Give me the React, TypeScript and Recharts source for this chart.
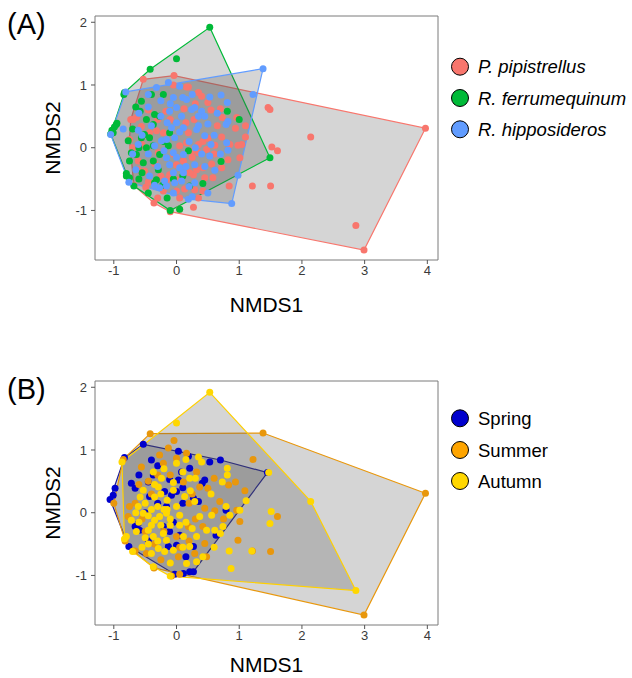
import { ScatterChart, Scatter, XAxis, YAxis, ReferenceArea } from 'recharts';

const FONT = '"Liberation Sans", Arial, sans-serif';

const X_DOMAIN = [-1.3, 4.17];
const Y_DOMAIN = [-1.79, 2.1];
const X_TICKS = [-1, 0, 1, 2, 3, 4];
const Y_TICKS = [-1, 0, 1, 2];

// ---- panel A: species ----
const speciesNames = ['P. pipistrellus', 'R. ferrumequinum', 'R. hipposideros'];
const speciesColors = ['#F8766D', '#00BA38', '#619CFF'];

const pipHull = [
  [-0.53, 1.09], [-0.04, 1.15], [3.97, 0.31], [2.99, -1.63], [-0.1, -1.02],
  [-0.36, -0.88], [-0.68, -0.6], [-0.75, 0.13], [-0.73, 0.45],
];
const pipInner = [
  [1.46, 0.64], [1.49, 0.61], [2.14, 0.17], [1.52, 0.01], [1.61, -0.05], [1.21, -0.61],
  [1.5, -0.61], [0.84, -0.61], [0.27, -0.95], [0.05, -0.98], [2.86, -1.24],
  [0.96, 0.48], [1.1, 0.35], [1.1, 0.17], [0.94, 0.31], [1.04, 0.05], [0.73, 0.48], [0.72, 0.17],
  [0.35, 0.88], [0.4, 0.82], [0.61, 0.04], [0.42, 0.1], [0.35, 0.05], [0.48, -0.03], [0.35, -0.08],
  [1.01, -0.16], [0.82, -0.19], [0.56, -0.26], [0.42, -0.32], [0.72, -0.32], [0.32, -0.35],
  [0.58, -0.48], [0.45, -0.48], [0.27, -0.43], [0.29, -0.67], [0.42, -0.69], [0.98, 0.04],
  [0.19, 0.97], [0.16, 0.97], [-0.17, 0.58], [-0.69, 0.45], [-0.64, 0.48], [-0.56, 0.34],
  [-0.43, 0.24], [-0.32, 0.27], [-0.21, 0.24], [0.19, 0.24], [0.05, 0.03], [0.16, 0.08],
  [-0.61, -0.21], [-0.29, -0.08], [0, -0.27], [0.11, -0.21], [-0.61, -0.35], [-0.51, -0.37],
  [-0.11, -0.43], [-0.16, -0.51], [0.03, -0.51], [0.21, -0.4], [-0.49, -0.63], [-0.21, -0.69],
  [0, -0.69], [0.13, -0.66], [-0.7, 0], [0.5, 0.72], [0.12, 0.62], [0.28, 0.45], [-0.05, 1.0],
  [0.25, -0.15], [-0.45, 0.6], [-0.3, 0.45], [-0.1, 0.45], [0.3, 0.7], [0.55, 0.6], [0.65, 0.35],
  [0.5, 0.15], [0.25, -0.05], [-0.05, -0.1], [-0.35, -0.25], [-0.25, -0.45], [0.05, -0.8],
  [-0.3, -0.8], [0.6, -0.1], [0.85, 0.05], [0.15, 0.4], [-0.55, 0.05], [-0.45, -0.55],
  [0.35, -0.8], [0.7, 0.62],
];

const ferHull = [
  [0.53, 1.92], [1.49, -0.16], [-0.1, -1.0], [-0.68, -0.61], [-0.8, -0.41],
  [-1.05, 0.22], [-0.83, 0.88], [-0.42, 1.25],
];
const ferInner = [
  [0, 1.42], [-0.84, 0.85], [-1.01, 0.24], [-0.96, 0.37], [-0.95, 0.39], [-0.4, 0.85],
  [-0.21, 0.85], [-0.56, 0.74], [-0.35, 0.53], [-0.27, 0.5], [-0.48, 0.45], [-0.37, 0.37],
  [-0.11, 0.24], [-0.51, 0.21], [-0.56, 0.16], [-0.43, 0.16], [-0.77, 0.11], [-0.48, 0],
  [-0.37, 0.03], [-0.27, -0.11], [-0.13, 0.03], [-0.72, -0.08], [-0.64, -0.11], [-0.75, -0.21],
  [-0.53, -0.24], [-0.37, -0.21], [-0.29, -0.35], [-0.8, -0.45], [-0.75, -0.48], [-0.32, -0.51],
  [-0.35, -0.56], [0.05, -0.98], [0.19, -0.05], [0.21, -0.61], [0.81, 0.58], [1.0, 0.45],
  [0.71, -0.22], [0.42, -0.57], [-1.03, 0.28], [-0.99, 0.33], [-0.58, 0.58], [-0.45, -0.72],
  [-0.22, -0.6], [0.1, -0.45], [-0.6, -0.5], [-0.65, 0.65], [-0.2, 0.1], [-0.05, -0.5],
  [-0.55, -0.4], [-0.15, -0.8], [-0.7, 0.3], [-0.6, 0.0],
];

const hipHull = [
  [1.38, 1.26], [0.88, -0.89], [0.19, -0.82], [-0.76, -0.55], [-1.05, 0.21], [-0.81, 0.89],
];
const hipInner = [
  [1.22, 0.85], [0.98, -0.44], [0.53, 0.81], [0.71, 0.84], [0.81, 0.72], [0.82, 0.42],
  [0.79, 0.37], [0.8, 0.08], [0.82, -0.04], [0.53, -0.13], [0.61, -0.36], [0.29, -0.56],
  [0.4, 0.58], [0.45, 0.5], [0.5, 0.38], [0.29, 0.64], [0.32, 0.29], [0.45, 0.19], [0.29, -0.27],
  [-0.13, 1.04], [0.05, 0.98], [-0.32, 0.96], [-0.05, 0.8], [0.16, 0.77], [0.24, 0.61],
  [0, 0.64], [-0.11, 0.58], [0.08, 0.5], [0, 0.4], [-0.08, 0.32], [0.11, 0.32], [-0.24, 0.11],
  [-0.16, 0.13], [-0.03, 0.16], [-0.61, 0.05], [-0.35, 0.03], [-0.05, -0.08], [0.11, -0.11],
  [-0.16, -0.16], [0.05, -0.32], [-0.11, -0.27], [-0.05, -0.4], [0.11, -0.4], [-0.43, -0.45],
  [-0.19, -0.53], [-0.03, -0.56], [0.08, -0.53], [-0.27, -0.64], [-0.16, -0.61], [-0.61, 0.28],
  [-0.45, 0.65], [-0.6, 0.55], [-0.25, 0.75], [0.35, 0.35], [0.2, 0.1], [0.3, 0.0], [0.15, -0.3],
  [-0.3, -0.3], [-0.45, -0.1], [0.6, 0.2], [0.65, 0.55], [-0.05, -0.72], [0.25, -0.78],
  [0.5, -0.72], [-0.7, -0.1], [-0.85, 0.3], [0.4, -0.1], [-0.4, 0.35], [-0.25, 0.5],
  [-0.55, 0.2], [0.1, 0.8], [-0.1, 0.7], [0.35, 0.5], [0.55, 0.05], [0.7, -0.1], [0.45, -0.3],
  [-0.2, -0.05], [-0.35, -0.6], [0.0, -0.15], [-0.45, 0.85], [0.25, 0.85], [-0.65, -0.35],
  [0.2, -0.62], [-0.15, 0.4], [0.05, 0.25],
];

// ---- panel B: seasons ----
const seasonNames = ['Spring', 'Summer', 'Autumn'];
const seasonColors = ['#0000CD', '#E8970C', '#FFD700'];
const seasonLegendColors = ['#0000CD', '#FFA500', '#FFD700'];
const seasonLineColors = ['#1A1A9A', '#E8970C', '#FFD000'];

const springHull = [
  [-0.53, 1.09], [0.7, 0.84], [1.45, 0.64], [0.27, -0.94], [-0.03, -0.98],
  [-0.76, -0.54], [-1.06, 0.21], [-0.83, 0.88],
];
const springInner = [
  [0.03, 0.98], [0.19, 0.9], [-0.6, 0.6], [-0.37, 0.6], [-0.11, 0.53], [0.08, 0.65], [0.21, 0.71],
  [-0.72, 0.47], [-0.45, 0.49], [-0.19, 0.34], [0.03, 0.52], [-0.08, 0.28], [-0.66, 0.39],
  [-0.43, 0.26], [-0.16, 0.1], [0, 0.34], [-0.98, 0.39], [-1.01, 0.28], [-0.61, -0.17],
  [-0.66, -0.22], [-0.21, -0.22], [-0.11, -0.3], [-0.59, -0.28], [0.05, -0.36], [0, -0.52],
  [-0.13, -0.54], [0.21, -0.94], [0.11, -0.97], [0.53, 0.81], [0.45, 0.52], [0.35, 0.18],
  [0.27, 0.23], [0.79, 0.04], [0.63, -0.36], [0.27, -0.54], [0.41, 0.47], [-0.4, 0.84],
  [-0.3, 0.15], [0.1, 0.15], [-0.5, 0.0], [-0.3, 0.75], [0.1, 0.4], [-0.05, -0.15],
  [-0.45, -0.45], [0.15, -0.7],
];

const summerHull = [
  [-0.42, 1.26], [1.38, 1.27], [3.97, 0.31], [2.99, -1.63], [-0.36, -0.88],
  [-0.69, -0.61], [-0.82, -0.45], [-1.0, 0.15], [-0.85, 0.85],
];
const summerInner = [
  [-0.04, 1.15], [-0.13, 1.03], [0.16, 0.95], [-0.27, 0.92], [-0.21, 0.79], [-0.56, 0.73],
  [0, 0.87], [0.11, 0.49], [-0.66, 0.15], [-0.75, 0.1], [-0.77, -0.06], [0.19, -0.22],
  [0.03, -0.7], [-0.48, -0.65], [-0.66, -0.61], [-0.08, -1.01], [0.05, -0.98], [0, -0.38],
  [1.22, 0.85], [0.94, 0.49], [1.09, 0.35], [0.83, 0.44], [0.69, 0.18], [0.45, 0.07],
  [0.61, 0.03], [0.96, 0.04], [1.01, -0.14], [1.61, -0.06], [1.5, -0.62], [0.98, -0.44],
  [0.42, -0.22], [0.45, -0.49], [0.48, -0.7], [0.29, -0.65], [0.32, 0.65], [0.37, 0.41],
  [0.5, 0.39], [1.21, -0.61], [-0.4, 0.3], [-0.2, -0.3], [-0.55, -0.1], [0.25, 0.3],
  [-0.1, 0.6], [-0.35, -0.5], [0.2, -0.45], [-0.3, 0.6], [-0.45, 0.5], [0.2, 0.15],
  [-0.5, -0.3], [0.05, -0.55], [0.3, -0.1], [-0.25, -0.75], [0.6, 0.55], [0.75, -0.1],
  [-0.6, 0.45],
];

const autumnHull = [
  [0.53, 1.92], [2.14, 0.18], [2.86, -1.24], [-0.1, -1.01], [-0.37, -0.86],
  [-0.7, -0.62], [-0.83, -0.42], [-0.87, 0.81],
];
const autumnInner = [
  [0, 1.43], [0, 0.79], [-0.37, 0.65], [-0.24, 0.55], [-0.53, 0.36], [-0.29, 0.41], [-0.05, 0.36],
  [0.21, 0.55], [0.13, 0.26], [-0.61, 0.1], [-0.53, -0.01], [-0.27, -0.06], [-0.16, -0.01],
  [-0.35, -0.12], [0.05, -0.04], [-0.45, -0.28], [-0.21, -0.33], [-0.37, -0.38], [-0.16, -0.44],
  [-0.29, -0.57], [-0.19, -0.62], [0.11, -0.38], [0.21, -0.54], [-0.64, -0.3], [-0.72, -0.12],
  [-0.8, -0.38], [0.16, -0.81], [0.35, 0.89], [0.4, 0.81], [0.81, 0.71], [0.81, 0.6],
  [0.73, 0.49], [1.47, 0.64], [1.11, 0.19], [1.01, 0.04], [0.79, 0.1], [0.85, -0.04],
  [0.56, -0.04], [0.29, 0.18], [0.37, -0.06], [0.74, -0.22], [0.61, -0.28], [0.48, -0.28],
  [0.7, -0.33], [0.32, -0.38], [0.42, -0.7], [0.32, -0.78], [0.84, -0.61], [1.2, -0.61],
  [0.87, -0.89], [1.51, 0.02], [1.49, -0.17], [-0.45, -0.05], [-0.4, 0.05], [-0.3, 0.1],
  [-0.2, 0.05], [-0.1, -0.1], [-0.25, -0.2], [-0.4, -0.2], [-0.1, -0.2], [0, 0.1], [-0.5, 0.15],
  [-0.15, 0.2], [-0.3, -0.45], [-0.45, -0.5], [-0.55, -0.55], [-0.5, -0.4], [0.15, -0.15],
  [-0.65, 0], [-0.58, 0.25], [-0.2, 0.7], [0.1, 0.65], [-0.05, 0.48], [0.22, 0.35],
  [-0.35, 0.25], [-0.15, 0.05], [0.05, -0.2], [-0.25, 0.3], [0.1, -0.55], [-0.05, -0.6],
  [-0.4, -0.65], [-0.6, -0.15], [0.3, 0.55], [0.15, 0.85], [-0.35, 0.45], [0.55, 0.3],
  [0.25, -0.25], [-0.1, -0.8], [0.6, -0.55],
];

const toPts = (arr: number[][]) => arr.map(([x, y]) => ({ x, y }));

interface Group {
  name: string;
  color: string;
  lineColor: string;
  legendColor: string;
  hull: number[][];
  inner: number[][];
}

const panelA: Group[] = [
  { name: speciesNames[0], color: speciesColors[0], lineColor: speciesColors[0], legendColor: speciesColors[0], hull: pipHull, inner: pipInner },
  { name: speciesNames[1], color: speciesColors[1], lineColor: speciesColors[1], legendColor: speciesColors[1], hull: ferHull, inner: ferInner },
  { name: speciesNames[2], color: speciesColors[2], lineColor: speciesColors[2], legendColor: speciesColors[2], hull: hipHull, inner: hipInner },
];

const panelB: Group[] = [
  { name: seasonNames[0], color: seasonColors[0], lineColor: seasonLineColors[0], legendColor: seasonLegendColors[0], hull: springHull, inner: springInner },
  { name: seasonNames[1], color: seasonColors[1], lineColor: seasonLineColors[1], legendColor: seasonLegendColors[1], hull: summerHull, inner: summerInner },
  { name: seasonNames[2], color: seasonColors[2], lineColor: seasonLineColors[2], legendColor: seasonLegendColors[2], hull: autumnHull, inner: autumnInner },
];

function Panel({ label, groups, legendY, italic, top, xLabelDy }: {
  label: string; groups: Group[]; legendY: number[]; italic: boolean; top: number; xLabelDy: number;
}) {
  return (
    <div style={{ position: 'absolute', left: 0, top, width: 632, height: 365 }}>
      <ScatterChart width={632} height={365} margin={{ top: 16, right: 194, bottom: 15, left: 11 }}>
        <XAxis
          type="number"
          dataKey="x"
          domain={X_DOMAIN}
          ticks={X_TICKS}
          allowDataOverflow
          interval={0}
          height={90}
          axisLine={false}
          tickLine={{ stroke: '#555' }}
          tickSize={4}
          tickMargin={2}
          tick={{ fill: '#3A3A3A', fontSize: 13, fontFamily: FONT }}
          label={{ value: 'NMDS1', position: 'center', dy: xLabelDy, fontSize: 21, fill: '#000', fontFamily: FONT }}
        />
        <YAxis
          type="number"
          dataKey="y"
          domain={Y_DOMAIN}
          ticks={Y_TICKS}
          allowDataOverflow
          interval={0}
          width={84}
          axisLine={false}
          tickLine={{ stroke: '#555' }}
          tickSize={4}
          tickMargin={4}
          tick={{ fill: '#3A3A3A', fontSize: 13, fontFamily: FONT }}
          label={{ value: 'NMDS2', position: 'center', angle: -90, fontSize: 21, fill: '#000', fontFamily: FONT }}
        />
        <ReferenceArea
          x1={X_DOMAIN[0]} x2={X_DOMAIN[1]} y1={Y_DOMAIN[0]} y2={Y_DOMAIN[1]}
          fill="none" stroke="#7A7A7A" strokeWidth={1}
        />
        {groups.map((g) => (
          <Scatter
            key={'hull-' + g.name}
            data={toPts(g.hull)}
            fill="none"
            line={{ stroke: g.lineColor, strokeWidth: 1.2, fill: '#505050', fillOpacity: 0.24 }}
            lineJointType="linearClosed"
            shape={() => <g />}
            isAnimationActive={false}
          />
        ))}
        {groups.map((g) => (
          <Scatter
            key={'pts-' + g.name}
            data={toPts([...g.hull, ...g.inner])}
            fill={g.color}
            shape={(p: any) => <circle cx={p.cx} cy={p.cy} r={3.5} fill={g.color} />}
            isAnimationActive={false}
          />
        ))}
      </ScatterChart>
      <svg
        width={632}
        height={365}
        style={{ position: 'absolute', left: 0, top: 0, pointerEvents: 'none' }}
        fontFamily={FONT}
      >
        <text x={7} y={33.5} fontSize={29} fill="#000">{label}</text>
        {groups.map((g, i) => (
          <g key={'leg-' + g.name}>
            <circle cx={460} cy={legendY[i]} r={8.5} fill={g.legendColor} stroke="#000" strokeWidth={1} />
            <text x={478} y={legendY[i] + 6.6} fontSize={18.5} fontStyle={italic ? 'italic' : 'normal'} fill="#000">
              {g.name}
            </text>
          </g>
        ))}
      </svg>
    </div>
  );
}

export default function App() {
  return (
    <div
      style={{
        position: 'absolute', left: 0, top: 0, width: 632, height: 678,
        overflow: 'hidden', background: '#fff', fontFamily: FONT,
      }}
    >
      <Panel label="(A)" groups={panelA} legendY={[66.7, 98, 129.3]} italic top={0} xLabelDy={0} />
      <Panel label="(B)" groups={panelB} legendY={[53.3, 85, 116]} italic={false} top={365} xLabelDy={-5} />
    </div>
  );
}
